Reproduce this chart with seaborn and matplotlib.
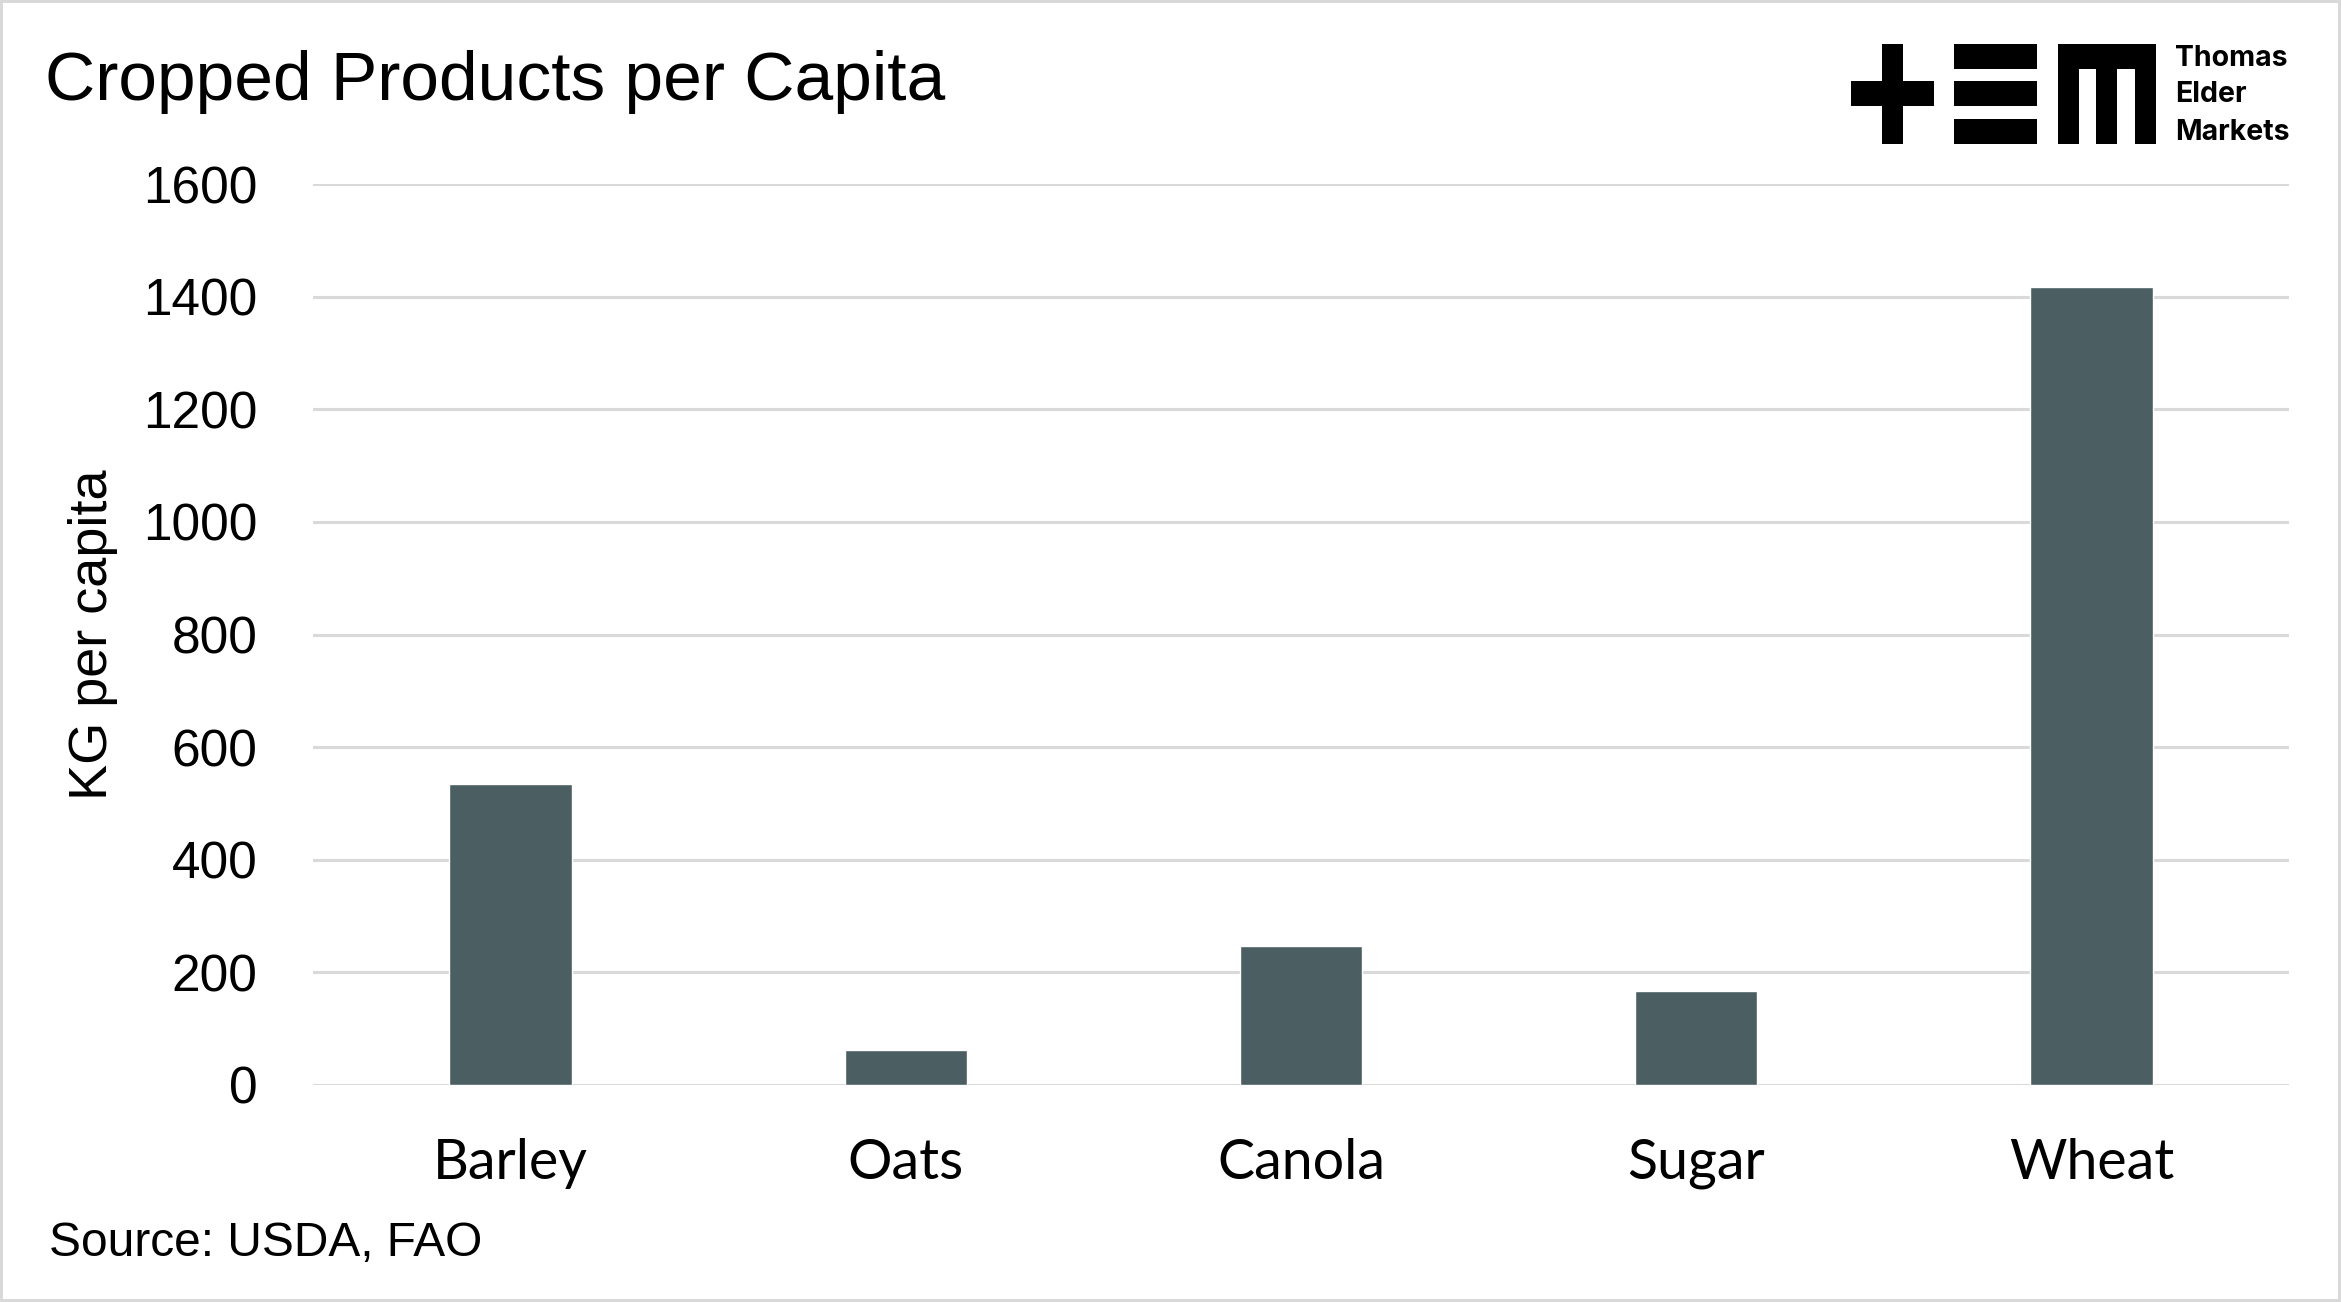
import pandas as pd
import matplotlib.pyplot as plt
import seaborn as sns
from matplotlib.patches import Rectangle

# chart data
crops = ["Barley", "Oats", "Canola", "Sugar", "Wheat"]
kg_per_capita = [535, 62, 246, 167, 1417]
y_ticks = [0, 200, 400, 600, 800, 1000, 1200, 1400, 1600]

df = pd.DataFrame({"crop": crops, "kg": kg_per_capita})

sns.set_theme(style="white")
plt.rcParams["font.family"] = ["Liberation Sans", "DejaVu Sans"]

W, H = 2341, 1302
fig = plt.figure(figsize=(W / 100, H / 100), dpi=100)
ax = fig.add_axes([313 / W, 1 - 1085 / H, (2289 - 313) / W, (1085 - 184) / H])

sns.barplot(data=df, x="crop", y="kg", color="#4b5e62", saturation=1,
            width=0.31, ax=ax, zorder=3)

ax.set_ylim(0, 1600)
ax.set_yticks(y_ticks)
ax.yaxis.grid(True, color="#d9d9d9", linewidth=2.2, zorder=0)
ax.set_axisbelow(True)
for s in ax.spines.values():
    s.set_visible(False)
ax.tick_params(axis="y", length=0, pad=40, labelsize=37, labelcolor="black")
ax.tick_params(axis="x", length=0, pad=38, labelsize=40, labelcolor="black")
for lbl in ax.get_xticklabels():
    lbl.set_family("Lato")
ax.set_xlabel("")
ax.set_ylabel("KG per capita", fontsize=39, color="black")
ax.yaxis.set_label_coords((118 - 313) / (2289 - 313), 0.5)

# title and source
fig.text(45 / W, 1 - 82 / H, "Cropped Products per Capita", fontsize=50,
         va="center", ha="left", color="black")
fig.text(49 / W, 1 - 1244 / H, "Source: USDA, FAO", fontsize=34.5,
         va="center", ha="left", color="black")

# logo drawn in pixel coordinates
lg = fig.add_axes([0, 0, 1, 1], zorder=5)
lg.set_xlim(0, W)
lg.set_ylim(H, 0)
lg.axis("off")
lg.patch.set_alpha(0)
blocks = [
    (1851, 81, 83, 25), (1882, 44, 21, 100),           # plus
    (1954, 44, 83, 25), (1954, 81, 83, 25), (1954, 119, 83, 25),  # E
    (2058, 44, 98, 25), (2058, 44, 21, 100), (2096, 44, 21, 100), (2135, 44, 21, 100),  # M
]
for x, y, w, h in blocks:
    lg.add_patch(Rectangle((x, y), w, h, color="black", lw=0))
for txt, yy in [("Thomas", 59), ("Elder", 95), ("Markets", 132)]:
    lg.text(2175, yy, txt, fontsize=20.5, fontweight="bold", family="Inter",
            va="center", ha="left", color="black")

# light frame around the picture
fig.add_artist(Rectangle((0, 0), 1, 1, transform=fig.transFigure, fill=False,
                         edgecolor="#d9d9d9", linewidth=4.3))

fig.savefig("out.png", dpi=100, facecolor="white")
